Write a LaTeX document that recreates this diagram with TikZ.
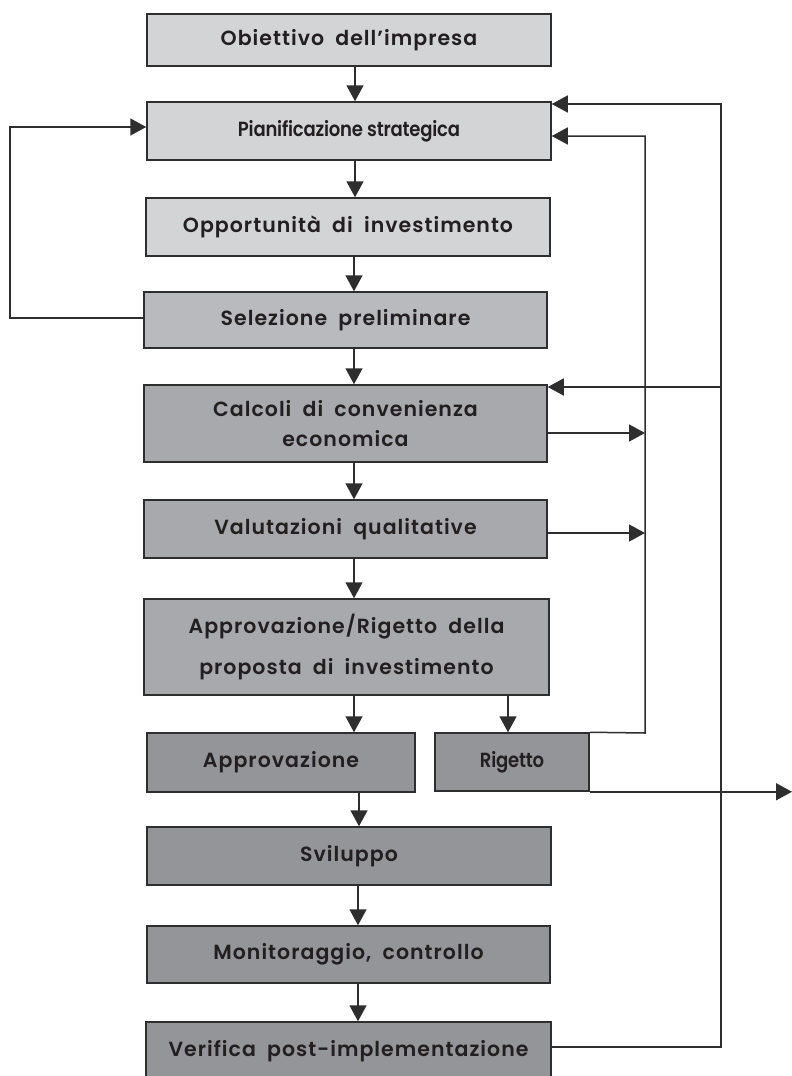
\documentclass[tikz,border=0pt]{standalone}
\usepackage{fontspec}
\setmainfont{Poppins}[UprightFont=* SemiBold, LetterSpace=5, WordSpace=1.9]
\newfontfamily\tightfont{Poppins}[UprightFont=* SemiBold, LetterSpace=-1, FakeStretch=0.88]
\usetikzlibrary{arrows.meta}
\definecolor{clight}{HTML}{D3D4D6}
\definecolor{cmidl}{HTML}{B9BABD}
\definecolor{cmid}{HTML}{A8A9AC}
\definecolor{cdark}{HTML}{949598}
\definecolor{cline}{HTML}{2E2E2E}
\definecolor{ctext}{HTML}{231F20}
\begin{document}
\begin{tikzpicture}[x=1pt,y=-1pt,
  box/.style={draw=cline, line width=1.5pt, text=ctext, align=center, inner sep=0pt,
    font=\fontsize{20.5}{30}\selectfont},
  arr/.style={draw=cline, line width=1.5pt, -{Triangle[length=16pt,width=17pt]}},
  ln/.style={draw=cline, line width=1.5pt}]
\useasboundingbox (0,0) rectangle (792,1076);
\fill[white] (0,0) rectangle (792,1076);

\node[box, fill=clight, minimum width=404pt, minimum height=52pt] (obj) at (349,40) {Obiettivo dell’impresa};
\node[box, fill=clight, minimum width=404pt, minimum height=58pt, font=\tightfont\fontsize{20.5}{30}\selectfont] (pian) at (349,131) {Pianificazione strategica};
\node[box, fill=clight, minimum width=404pt, minimum height=58pt] (opp) at (348,227) {Opportunità di investimento};
\node[box, fill=cmidl, minimum width=403pt, minimum height=56pt] (sel) at (345.5,320) {Selezione preliminare};
\node[box, fill=cmid, minimum width=403pt, minimum height=77pt, font=\fontsize{20.5}{30}\selectfont] (calc) at (345.5,423.5) {Calcoli di convenienza\\economica};
\node[box, fill=cmid, minimum width=403pt, minimum height=58pt] (val) at (345.5,529) {Valutazioni qualitative};
\node[box, fill=cmid, minimum width=405pt, minimum height=96pt, font=\fontsize{20.5}{41}\selectfont] (apr) at (346.5,647) {Approvazione/Rigetto della\\proposta di investimento};
\node[box, fill=cdark, minimum width=268pt, minimum height=59pt] (appr) at (281,762.5) {Approvazione};
\node[box, fill=cdark, minimum width=154pt, minimum height=58pt, font=\tightfont\fontsize{20.5}{30}\selectfont] (rig) at (512,762) {Rigetto};
\node[box, fill=cdark, minimum width=404pt, minimum height=58pt] (svil) at (349,856) {Sviluppo};
\node[box, fill=cdark, minimum width=403pt, minimum height=57pt] (mon) at (348.5,954.5) {Monitoraggio, controllo};
\node[box, fill=cdark, minimum width=405pt, minimum height=58pt] (ver) at (348.5,1051) {Verifica post-implementazione};

% vertical flow
\coordinate (xa) at (355,0);
\coordinate (xb) at (354,0);
\coordinate (xc) at (359,0);
\coordinate (xd) at (358,0);
\coordinate (xr) at (508,0);
\draw[arr] (obj.south -| xa) -- (pian.north -| xa);
\draw[arr] (pian.south -| xa) -- (opp.north -| xa);
\draw[arr] (opp.south -| xb) -- (sel.north -| xb);
\draw[arr] (sel.south -| xb) -- (calc.north -| xb);
\draw[arr] (calc.south -| xb) -- (val.north -| xb);
\draw[arr] (val.south -| xb) -- (apr.north -| xb);
\draw[arr] (apr.south -| xb) -- (appr.north -| xb);
\draw[arr] (apr.south -| xr) -- (rig.north -| xr);
\draw[arr] (appr.south -| xc) -- (svil.north -| xc);
\draw[arr] (svil.south -| xd) -- (mon.north -| xd);
\draw[arr] (mon.south -| xd) -- (ver.north -| xd);

% left loop
\coordinate (L1) at (10,318);
\coordinate (L2) at (10,127);
\draw[arr] (sel.west |- L1) -- (L1) -- (L2) -- (pian.west |- L2);

% outer right loop
\coordinate (R1) at (721,1047);
\coordinate (R2) at (721,104);
\coordinate (R3) at (721,387);
\draw[arr] (ver.east |- R1) -- (R1) -- (R2) -- (pian.east |- R2);
\draw[arr] (R3) -- (calc.east |- R3);

% inner right loop
\coordinate (I1) at (645,733);
\coordinate (I2) at (645,136);
\coordinate (I3) at (645,433);
\coordinate (I4) at (645,533);
\draw[arr] (rig.north east) -- (I1) -- (I2) -- (pian.east |- I2);
\draw[arr] (calc.east |- I3) -- (I3);
\draw[arr] (val.east |- I4) -- (I4);

% rejection exit
\coordinate (E) at (792,791);
\draw[arr] (rig.south east) -- (rig.south east -| E);
\end{tikzpicture}
\end{document}
